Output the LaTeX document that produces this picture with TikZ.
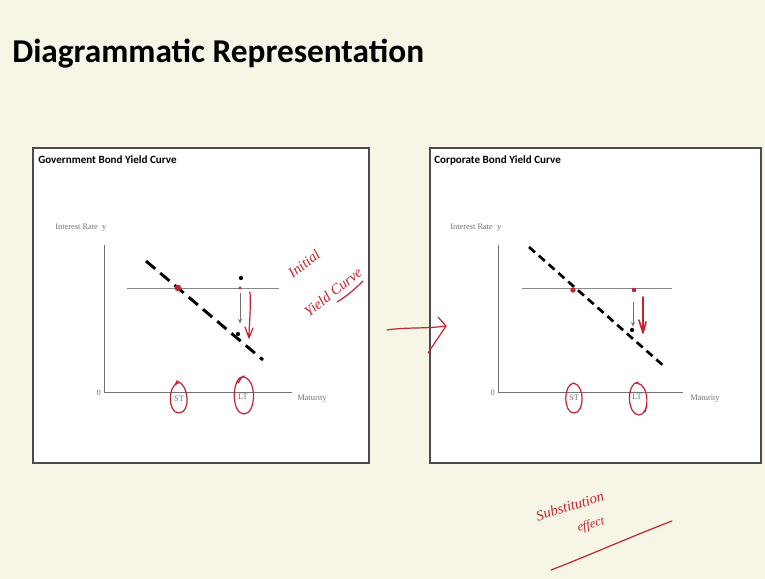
\documentclass[tikz,border=0pt]{standalone}
\usepackage{fontspec}
\setmainfont{Liberation Serif}
\newfontfamily\slidefont{Carlito}
\usetikzlibrary{arrows.meta,calc}
\definecolor{slidebg}{RGB}{247,245,230}
\definecolor{framegray}{RGB}{75,75,75}
\definecolor{axisgray}{RGB}{115,115,115}
\definecolor{inkred}{RGB}{196,36,48}
\tikzset{
  panelbox/.style={draw=framegray,line width=1.3pt,fill=white},
  slidetitle/.style={anchor=base west,inner sep=0pt,font=\slidefont\bfseries\fontsize{25}{28}\selectfont},
  paneltitle/.style={anchor=west,inner sep=0pt,font=\slidefont\bfseries\fontsize{8.3}{10}\selectfont},
  axislabel/.style={inner sep=0pt,text=axisgray,font=\fontsize{6.3}{7.5}\selectfont},
  axisline/.style={draw=axisgray,line width=0.7pt},
  levelline/.style={draw=axisgray!85,line width=0.6pt},
  curveline/.style={draw=black,line width=2.2pt},
  dotblack/.style={circle,fill=black,inner sep=0pt,minimum size=3.2pt},
  dotred/.style={circle,fill=inkred,inner sep=0pt,minimum size=3.2pt},
  shiftarr/.style={-{Stealth[length=3.5pt,width=3pt]},draw=axisgray,line width=0.5pt},
  inkline/.style={draw=inkred,line width=0.9pt,line cap=round,line join=round},
  inktext/.style={inner sep=0pt,text=inkred,font=\itshape\fontsize{11}{12}\selectfont}
}

\begin{document}
\begin{tikzpicture}[x=0.75pt,y=-0.75pt]
  %% slide background
  \useasboundingbox (0,0) rectangle (765,579);
  \fill[slidebg] (0,0) rectangle (765,579);
  \node[slidetitle] (slidehead) at (12,62) {Diagrammatic Representation};

  %% panels
  \draw[panelbox] (33,148) rectangle (369,463);
  \draw[panelbox] (430,148) rectangle (761,463);
  \node[paneltitle] (govtitle) at (38,160) {Government Bond Yield Curve};
  \node[paneltitle] (corptitle) at (434,160) {Corporate Bond Yield Curve};

  %% government bond panel
  \node[axislabel,anchor=west] (govy) at (55,228) {Interest\ Rate\ \ y};
  \draw[axisline] (104,245) -- (104,392) -- (292,392);
  \node[axislabel,anchor=east] (govzero) at (101,393) {0};
  \node[axislabel,anchor=west] (govmat) at (297,399) {Maturity};
  \node[axislabel] (govst) at (179,399) {ST};
  \node[axislabel] (govlt) at (243,397) {LT};
  \draw[levelline] (127,288) -- (279,288);
  \draw[curveline,dash pattern=on 9pt off 5pt] (146,261) -- (263,360);
  \node[dotred,minimum size=5pt] (govstdot) at (178,288) {};
  \node[dotblack] (govtop) at (241,278) {};
  \node[dotred,minimum size=2.6pt] (govltdot) at (240,288) {};
  \node[dotblack] (govlow) at (238,334) {};
  \draw[shiftarr] (govltdot.south) ++(0,3) -- ($(govlow.north)+(2,-8)$);
  \draw[inkline] (178.5,383) .. controls (168,384) and (167,413) .. (179,413)
    .. controls (191,413) and (189,384) .. (177,381) -- (175,385);
  \draw[inkline] (244,376) .. controls (231,377) and (231,414) .. (244,414)
    .. controls (257,414) and (257,376) .. (242,377) -- (238,383);
  \draw[inkline] (250,292) .. controls (251,310) and (249,325) .. (249,338)
    (245,327) -- (249,338) -- (253,328);
  \node[inktext,rotate=38] (govinit) at (304,264) {Initial};
  \node[inktext,rotate=38] (govcurve) at (333,292) {Yield Curve};
  \draw[inkline] (337,302) .. controls (347,296) and (355,289) .. (363,281);

  %% move across
  \coordinate (crossfrom) at (387,330);
  \coordinate (crossto) at (446,326);
  \draw[inkline] (crossfrom) .. controls (405,327) and (425,329) .. (crossto);
  \draw[inkline] (438,317) -- (crossto) -- (428,353);

  %% corporate bond panel
  \node[axislabel,anchor=west] (corpy) at (450,228) {Interest\ Rate\ \ y};
  \draw[axisline] (498,245) -- (498,392) -- (683,392);
  \node[axislabel,anchor=east] (corpzero) at (495,393) {0};
  \node[axislabel,anchor=west] (corpmat) at (690,399) {Maturity};
  \node[axislabel] (corpst) at (574,398) {ST};
  \node[axislabel] (corplt) at (637,397) {LT};
  \draw[levelline] (522,288) -- (672,288);
  \draw[curveline,line width=2pt,dash pattern=on 6pt off 3.8pt] (529,247) -- (666,368);
  \node[dotred,minimum size=4pt] (corpstdot) at (573,290) {};
  \node[dotred,minimum size=3.4pt] (corpltdot) at (634,290) {};
  \node[dotblack] (corplow) at (632,330) {};
  \draw[shiftarr] (corpltdot.south) ++(-1,9) -- ($(corplow.north)+(1,-1)$);
  \draw[inkline] (574,383) .. controls (563,384) and (563,413) .. (574,413)
    .. controls (585,413) and (585,384) .. (573,383);
  \draw[inkline] (638,382) .. controls (626,383) and (627,415) .. (639,415)
    .. controls (650,415) and (650,383) .. (636,383) (647,405) -- (645,412);
  \draw[inkline,line width=1.2pt] (643,297) -- (643,333)
    (639,320) -- (643,333) -- (646,322);

  %% substitution effect note
  \node[inktext,rotate=17] (substext) at (570,506) {Substitution};
  \node[inktext,rotate=15,font=\itshape\fontsize{9.5}{11}\selectfont] (effecttext) at (591,525) {effect};
  \draw[inkline] (551,570) .. controls (590,555) and (630,537) .. (672,521);
\end{tikzpicture}
\end{document}
